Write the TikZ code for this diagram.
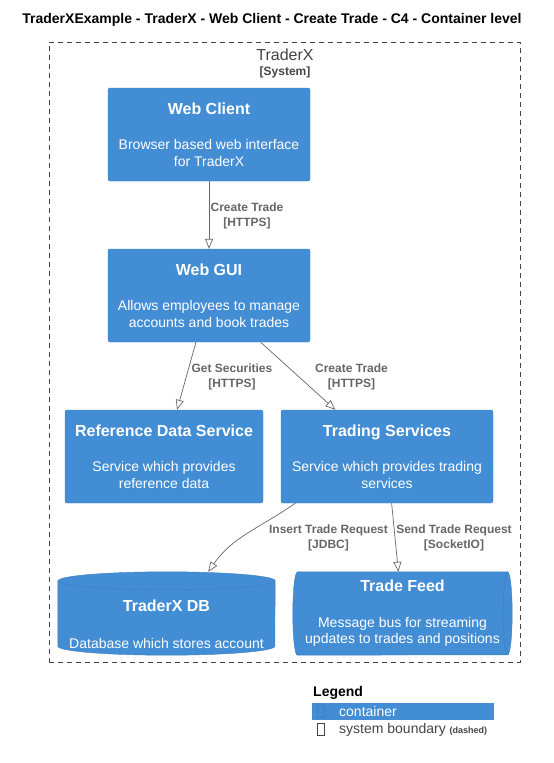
\documentclass[tikz,border=0pt]{standalone}
\usepackage{fontspec}
\setmainfont{Liberation Sans}
\usetikzlibrary{arrows.meta,shapes,positioning}

\definecolor{cfourblue}{HTML}{438DD5}
\definecolor{cfourline}{HTML}{3C7FC0}
\definecolor{relgrey}{HTML}{666666}
\definecolor{bndgrey}{HTML}{444444}

\tikzset{
  container/.style={fill=cfourblue, draw=cfourline, rounded corners=2pt, text=white,
    minimum height=93pt, align=center, inner sep=0pt,
    font=\fontsize{14}{16.5}\selectfont},
  shapebox/.style={minimum width=#1, minimum height=83pt, inner sep=0pt, text=white,
    align=center, font=\fontsize{14}{16.5}\selectfont},
  rel/.style={draw=relgrey, line width=0.7pt, -{Triangle[open,length=10pt,width=8pt]}},
  rellabel/.style={text=relgrey, align=center, inner sep=0pt,
    font=\bfseries\fontsize{12}{15}\selectfont},
  boundary/.style={draw=bndgrey, dash pattern=on 5pt off 4pt, line width=0.8pt,
    minimum width=471pt, minimum height=620pt, inner sep=0pt},
}

\begin{document}
\begin{tikzpicture}[x=1pt,y=1pt]
      \useasboundingbox (0,0) rectangle (554,-763);

      \node[font=\bfseries\fontsize{14}{17}\selectfont] (title) at (272,-20)
        {TraderXExample - TraderX - Web Client - Create Trade - C4 - Container level};

      % system boundary
      \node[boundary] (traderx) at (284.5,-352) {};
      \node[text=bndgrey, font=\fontsize{16}{19}\selectfont] (sysname) at (285,-55) {TraderX};
      \node[text=bndgrey, font=\bfseries\fontsize{12}{15}\selectfont] (systype) at (285,-72) {[System]};

      % containers
      \node[container, minimum width=202pt] (webclient) at (209,-134.5)
        {{\bfseries\fontsize{16}{19}\selectfont Web Client}\\[19pt]Browser based web interface\\for TraderX};
      \node[container, minimum width=202pt] (webgui) at (209,-295.5)
        {{\bfseries\fontsize{16}{19}\selectfont Web GUI}\\[19pt]Allows employees to manage\\accounts and book trades};
      \node[container, minimum width=198pt] (refdata) at (164,-456.5)
        {{\bfseries\fontsize{16}{19}\selectfont Reference Data Service}\\[19pt]Service which provides\\reference data};
      \node[container, minimum width=212pt] (trading) at (387,-456.5)
        {{\bfseries\fontsize{16}{19}\selectfont Trading Services}\\[19pt]Service which provides trading\\services};

      % database
      \node[shapebox=217pt] (db) at (166.5,-613.5) {};
      \filldraw[fill=cfourblue, draw=cfourline] ([yshift=-9pt]db.north west) -- ([yshift=9pt]db.south west)
        arc[start angle=180, end angle=360, x radius=108.5pt, y radius=9pt]
        -- ([yshift=-9pt]db.north east)
        arc[start angle=0, end angle=180, x radius=108.5pt, y radius=9pt] -- cycle;
      \draw[cfourline] ([yshift=-9pt]db.north west) arc[start angle=180, end angle=360, x radius=108.5pt, y radius=9pt];
      \node[text=white, font=\bfseries\fontsize{16}{19}\selectfont] (dbtitle) at (166.5,-606) {TraderX DB};
      \node[text=white, font=\fontsize{14}{16.5}\selectfont] (dbdesc) at (166.5,-643) {Database which stores account};

      % queue
      \node[shapebox=219pt] (feed) at (402.5,-613.5) {};
      \filldraw[fill=cfourblue, draw=cfourline] ([xshift=4.5pt]feed.north west) -- ([xshift=-4.5pt]feed.north east)
        arc[start angle=90, end angle=-90, x radius=4.5pt, y radius=41.5pt]
        -- ([xshift=4.5pt]feed.south west)
        arc[start angle=270, end angle=90, x radius=4.5pt, y radius=41.5pt] -- cycle;
      \draw[cfourline] ([xshift=-4.5pt]feed.north east) arc[start angle=90, end angle=270, x radius=4.5pt, y radius=41.5pt];
      \node[text=white, align=center, font=\fontsize{14}{16.5}\selectfont] (feedtext) at (feed)
        {{\bfseries\fontsize{16}{19}\selectfont Trade Feed}\\[19pt]Message bus for streaming\\updates to trades and positions};

      % relations
      \draw[rel] (webclient) -- (webgui);
      \node[rellabel] (lbl1) at (247,-215.5) {Create Trade\\{}[HTTPS]};
      \draw[rel] (webgui) -- (refdata);
      \node[rellabel] (lbl2) at (232,-376.5) {Get Securities\\{}[HTTPS]};
      \draw[rel] (webgui) -- (trading);
      \node[rellabel] (lbl3) at (351.5,-376.5) {Create Trade\\{}[HTTPS]};
      \draw[rel] (trading.207) to[out=215, in=55] (db.45);
      \node[rellabel] (lbl4) at (328.5,-537.5) {Insert Trade Request\\{}[JDBC]};
      \draw[rel] (trading) -- (feed);
      \node[rellabel] (lbl5) at (454,-537.5) {Send Trade Request\\{}[SocketIO]};

      % legend
      \node[anchor=west, inner sep=0pt, font=\bfseries\fontsize{14}{17}\selectfont] (legend) at (313,-693) {Legend};
      \node[fill=cfourblue, minimum width=182pt, minimum height=17pt, inner sep=0pt] (legcont) at (403,-711.5) {};
      \node[draw=cfourline, minimum width=7pt, minimum height=12pt, inner sep=0pt] (legglyph1) at (321,-711.5) {};
      \node[anchor=west, inner sep=0pt, text=white, font=\fontsize{14}{17}\selectfont] (legconttext) at (339,-711.5) {container};
      \node[draw=bndgrey, minimum width=7pt, minimum height=12pt, inner sep=0pt] (legglyph2) at (321,-729.5) {};
      \node[anchor=west, inner sep=0pt, text=bndgrey, font=\fontsize{14}{17}\selectfont] (legbndtext) at (339,-729.5)
        {system boundary {\fontsize{9}{11}\selectfont\bfseries(dashed)}};
\end{tikzpicture}
\end{document}
